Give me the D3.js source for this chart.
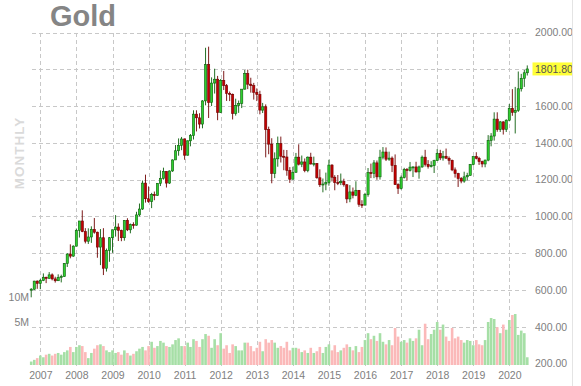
<!DOCTYPE html>
<html>
<head>
<meta charset="utf-8">
<script src="https://cdn.jsdelivr.net/npm/d3@7"></script>
<style>
    body { margin: 0; background: #fff; }
    text { font-family: "Liberation Sans", Arial, sans-serif; }
</style>
</head>
<body>
<script>
// dimensions
const width = 581;
const height = 386;

const title = "Gold";
const period = "MONTHLY";
const firstMonth = new Date(2006, 9, 1);

// monthly candles, [open, high, low, close], Oct 2006 .. Jul 2020
const candles = [
    [600, 610, 560, 604], [604, 650, 600, 648], [648, 652, 606, 636],
    // 2007
    [636, 660, 604, 651], [651, 690, 648, 669], [669, 672, 637, 663], [663, 697, 662, 682],
    [682, 690, 652, 660], [660, 672, 640, 650], [650, 685, 649, 668], [668, 683, 641, 673],
    [673, 746, 672, 744], [744, 800, 725, 795], [795, 848, 772, 784], [784, 843, 780, 838],
    // 2008
    [838, 934, 838, 924], [924, 975, 885, 975], [975, 1033, 914, 917], [917, 936, 853, 865],
    [865, 935, 850, 888], [888, 946, 856, 929], [929, 991, 906, 914], [914, 917, 775, 833],
    [833, 931, 735, 884], [884, 936, 681, 718], [718, 825, 700, 815], [815, 888, 753, 884],
    // 2009
    [884, 928, 802, 927], [927, 1007, 890, 942], [942, 962, 866, 924], [924, 928, 865, 884],
    [884, 980, 868, 978], [978, 990, 920, 927], [927, 961, 908, 955], [955, 968, 933, 952],
    [952, 1025, 950, 1008], [1008, 1070, 1000, 1040], [1040, 1195, 1035, 1181], [1181, 1227, 1075, 1096],
    // 2010
    [1096, 1163, 1074, 1081], [1081, 1128, 1045, 1118], [1118, 1135, 1088, 1113], [1113, 1180, 1112, 1180],
    [1180, 1250, 1165, 1207], [1207, 1265, 1200, 1245], [1245, 1245, 1157, 1181], [1181, 1250, 1177, 1247],
    [1247, 1310, 1242, 1307], [1307, 1388, 1314, 1357], [1357, 1424, 1330, 1386], [1386, 1432, 1360, 1421],
    // 2011
    [1421, 1424, 1308, 1333], [1333, 1413, 1330, 1411], [1411, 1448, 1381, 1439], [1439, 1577, 1418, 1556],
    [1556, 1577, 1462, 1536], [1536, 1561, 1478, 1502], [1502, 1632, 1479, 1628], [1628, 1917, 1604, 1825],
    [1825, 1923, 1535, 1620], [1620, 1756, 1600, 1725], [1725, 1803, 1668, 1746], [1746, 1764, 1523, 1566],
    // 2012
    [1566, 1747, 1563, 1740], [1740, 1791, 1687, 1711], [1711, 1720, 1628, 1669], [1669, 1679, 1627, 1664],
    [1664, 1668, 1527, 1560], [1560, 1640, 1548, 1604], [1604, 1630, 1563, 1614], [1614, 1691, 1589, 1692],
    [1692, 1796, 1689, 1776], [1776, 1798, 1692, 1719], [1719, 1754, 1673, 1711], [1711, 1726, 1635, 1675],
    // 2013
    [1675, 1696, 1627, 1663], [1663, 1683, 1555, 1578], [1578, 1617, 1562, 1596], [1596, 1609, 1321, 1472],
    [1472, 1488, 1338, 1393], [1393, 1425, 1180, 1234], [1234, 1348, 1208, 1313], [1313, 1434, 1270, 1396],
    [1396, 1434, 1293, 1327], [1327, 1362, 1251, 1323], [1323, 1361, 1221, 1250], [1250, 1268, 1182, 1202],
    // 2014
    [1202, 1270, 1202, 1240], [1240, 1345, 1237, 1322], [1322, 1392, 1277, 1284], [1284, 1331, 1268, 1296],
    [1296, 1315, 1240, 1250], [1250, 1326, 1240, 1322], [1322, 1346, 1282, 1285], [1285, 1325, 1272, 1288],
    [1288, 1290, 1205, 1210], [1210, 1256, 1160, 1172], [1172, 1206, 1131, 1176], [1176, 1238, 1142, 1184],
    // 2015
    [1184, 1308, 1167, 1279], [1279, 1284, 1190, 1213], [1213, 1224, 1142, 1184], [1184, 1225, 1170, 1183],
    [1183, 1233, 1170, 1190], [1190, 1205, 1162, 1172], [1172, 1175, 1072, 1095], [1095, 1170, 1077, 1133],
    [1133, 1157, 1098, 1115], [1115, 1191, 1110, 1142], [1142, 1143, 1052, 1065], [1065, 1088, 1046, 1061],
    // 2016
    [1061, 1128, 1062, 1118], [1118, 1263, 1107, 1238], [1238, 1287, 1208, 1234], [1234, 1306, 1208, 1291],
    [1291, 1304, 1199, 1215], [1215, 1362, 1200, 1322], [1322, 1377, 1310, 1350], [1350, 1375, 1301, 1311],
    [1311, 1352, 1302, 1317], [1317, 1326, 1241, 1277], [1277, 1337, 1171, 1173], [1173, 1180, 1122, 1152],
    // 2017
    [1152, 1222, 1146, 1211], [1211, 1264, 1206, 1255], [1255, 1263, 1194, 1250], [1250, 1296, 1244, 1268],
    [1268, 1272, 1214, 1269], [1269, 1297, 1238, 1242], [1242, 1276, 1205, 1269], [1269, 1331, 1264, 1322],
    [1322, 1362, 1271, 1283], [1283, 1306, 1260, 1271], [1271, 1300, 1266, 1276], [1276, 1308, 1236, 1303],
    // 2018
    [1303, 1366, 1302, 1343], [1343, 1362, 1306, 1318], [1318, 1356, 1303, 1327], [1327, 1369, 1315, 1316],
    [1316, 1326, 1282, 1305], [1305, 1309, 1246, 1253], [1253, 1266, 1211, 1233], [1233, 1237, 1160, 1206],
    [1206, 1214, 1180, 1192], [1192, 1243, 1183, 1215], [1215, 1237, 1196, 1223], [1223, 1285, 1221, 1282],
    // 2019
    [1282, 1326, 1277, 1325], [1325, 1349, 1310, 1316], [1316, 1324, 1280, 1298], [1298, 1303, 1267, 1285],
    [1285, 1309, 1267, 1306], [1306, 1442, 1300, 1413], [1413, 1453, 1381, 1437], [1437, 1566, 1412, 1529],
    [1529, 1566, 1460, 1472], [1472, 1519, 1459, 1514], [1514, 1517, 1445, 1473], [1473, 1528, 1459, 1523],
    // 2020
    [1523, 1611, 1517, 1587], [1587, 1692, 1547, 1566], [1566, 1704, 1451, 1577], [1577, 1788, 1568, 1694],
    [1694, 1775, 1679, 1751], [1751, 1796, 1704, 1781], [1781, 1821, 1766, 1801.8]
];

// monthly volume, millions
const volumes = [
    0.4, 0.6, 0.8,
    1.1, 0.9, 1.2, 1.3, 1.1, 1.3, 1.4, 1.2, 1.5, 1.7, 2.1, 1.5,
    2.1, 2.3, 2.2, 1.5, 0.8, 1.4, 1.9, 2.3, 2.4, 2.2, 1.7, 1.5,
    1.7, 1.4, 1.5, 1.2, 1.7, 1.4, 1.1, 1.3, 1.6, 1.9, 2.1, 1.7,
    2.2, 2.7, 2.0, 2.2, 2.8, 2.6, 2.2, 2.1, 2.4, 2.9, 3.1, 2.2,
    2.2, 2.6, 2.1, 3.0, 2.8, 2.1, 3.0, 3.6, 3.4, 2.0, 3.0, 2.3,
    3.7, 1.9, 2.3, 1.4, 2.4, 2.2, 1.7, 1.7, 2.6, 2.6, 2.2, 1.6,
    2.0, 2.7, 1.6, 3.0, 2.6, 2.9, 2.6, 2.0, 2.2, 2.0, 2.7, 1.7,
    2.0, 2.0, 1.9, 1.5, 1.7, 1.4, 2.0, 1.4, 1.6, 2.1, 1.4, 2.1,
    2.4, 1.7, 2.3, 1.5, 1.7, 2.0, 2.4, 2.1, 1.7, 2.2, 1.5, 2.1,
    2.9, 3.7, 3.0, 3.4, 2.8, 3.7, 2.7, 2.4, 2.9, 2.3, 4.3, 3.3,
    2.7, 2.9, 2.6, 3.1, 2.8, 3.1, 4.1, 2.3, 4.8, 3.0, 3.6, 4.1,
    5.0, 4.1, 4.7, 3.3, 2.8, 4.3, 3.1, 3.3, 2.9, 2.6, 2.9, 2.8,
    2.3, 2.9, 2.4, 2.3, 2.9, 5.0, 5.8, 5.6, 4.4, 3.7, 4.7, 4.1,
    5.4, 6.4, 6.6, 3.5, 4.0, 3.7, 0.9
];

const yearTicks = [2007, 2008, 2009, 2010, 2011, 2012, 2013, 2014, 2015, 2016, 2017, 2018, 2019, 2020];
const priceTicks = [200, 400, 600, 800, 1000, 1200, 1400, 1600, 1800, 2000];
const volumeTicks = [5, 10];

const upFill = "#2ecf2e", upLine = "#0b5d0b";
const downFill = "#c40000", downLine = "#6e0000";
const upVol = "#a6dfa6", downVol = "#fbb9b9";
const gridColor = "#c8c8c8";
const labelColor = "#808080";

let data = candles.map(function (c, i) {
    return {
        date: d3.timeMonth.offset(firstMonth, i),
        open: c[0], high: c[1], low: c[2], close: c[3],
        volume: volumes[i]
    };
});

let svg = d3.select("body")
    .append("svg")
    .attr("width", width)
    .attr("height", height)
    .style("display", "block");

svg.append("defs").append("clipPath")
    .attr("id", "clip")
    .append("rect")
    .attr("x", 0).attr("y", 0)
    .attr("width", 572).attr("height", height);

// scales
let x = d3.scaleTime()
    .domain([new Date(2007, 0, 1), new Date(2020, 0, 1)])
    .range([40.3, 509.3]);
let y = d3.scaleLinear()
    .domain([200, 2000])
    .range([363.5, 32.5]);
// volume pane shares the bottom of the chart
let yVol = d3.scaleLinear()
    .domain([0, 5, 10])
    .range([365, 322, 297]);

const plotLeft = 32, plotRight = 528, plotTop = 33, plotBottom = 366;

// gridlines
svg.append("g")
    .selectAll("line")
    .data(priceTicks.filter(function (d) { return d > 200; }))
    .enter()
    .append("line")
    .attr("x1", plotLeft).attr("x2", plotRight)
    .attr("y1", function (d) { return Math.round(y(d)) + 0.5; })
    .attr("y2", function (d) { return Math.round(y(d)) + 0.5; })
    .attr("stroke", gridColor)
    .attr("stroke-dasharray", "4,3");

svg.append("g")
    .selectAll("line")
    .data(yearTicks)
    .enter()
    .append("line")
    .attr("x1", function (d) { return Math.round(x(new Date(d, 0, 1))) + 0.5; })
    .attr("x2", function (d) { return Math.round(x(new Date(d, 0, 1))) + 0.5; })
    .attr("y1", plotTop).attr("y2", plotBottom)
    .attr("stroke", gridColor)
    .attr("stroke-dasharray", "4,3");

// right border
svg.append("line")
    .attr("x1", 572.5).attr("x2", 572.5)
    .attr("y1", 0).attr("y2", height)
    .attr("stroke", "#e4e4e4");

// volume bars
svg.append("g")
    .selectAll("rect")
    .data(data)
    .enter()
    .append("rect")
    .attr("x", function (d) { return x(d.date) - 1.3; })
    .attr("width", 2.6)
    .attr("y", function (d) { return yVol(d.volume); })
    .attr("height", function (d) { return yVol(0) - yVol(d.volume); })
    .attr("fill", function (d) { return d.close >= d.open ? upVol : downVol; });

// candles
let candle = svg.append("g")
    .selectAll("g")
    .data(data)
    .enter()
    .append("g");

candle.append("line")
    .attr("x1", function (d) { return x(d.date); })
    .attr("x2", function (d) { return x(d.date); })
    .attr("y1", function (d) { return y(d.high); })
    .attr("y2", function (d) { return y(d.low); })
    .attr("stroke", function (d) { return d.close >= d.open ? upLine : downLine; })
    .attr("stroke-width", 0.9);

candle.append("rect")
    .attr("x", function (d) { return x(d.date) - 1.1; })
    .attr("width", 2.2)
    .attr("y", function (d) { return y(Math.max(d.open, d.close)); })
    .attr("height", function (d) { return Math.max(1, Math.abs(y(d.open) - y(d.close))); })
    .attr("fill", function (d) { return d.close >= d.open ? upFill : downFill; })
    .attr("stroke", function (d) { return d.close >= d.open ? upLine : downLine; })
    .attr("stroke-width", 0.6);

// price axis on the right
let priceAxis = svg.append("g")
    .attr("clip-path", "url(#clip)")
    .append("g")
    .attr("transform", "translate(533,0)")
    .call(d3.axisRight(y)
        .tickValues(priceTicks)
        .tickSize(0)
        .tickPadding(2)
        .tickFormat(d3.format(".2f")));
priceAxis.select(".domain").remove();
priceAxis.selectAll("text")
    .attr("fill", labelColor)
    .style("font-size", "10.5px");

// last price marker
let last = data[data.length - 1];
let marker = svg.append("g").attr("clip-path", "url(#clip)");
marker.append("rect")
    .attr("x", 532.5)
    .attr("y", y(last.close) - 6.5)
    .attr("width", 40)
    .attr("height", 13)
    .attr("fill", "#ffff38");
marker.append("text")
    .attr("x", 535)
    .attr("y", y(last.close))
    .attr("dy", "0.35em")
    .attr("fill", "#555")
    .style("font-size", "10.5px")
    .text(d3.format(".2f")(last.close));

// year axis
let yearAxis = svg.append("g")
    .attr("transform", "translate(0,366)")
    .call(d3.axisBottom(x)
        .tickValues(yearTicks.map(function (d) { return new Date(d, 0, 1); }))
        .tickSize(0)
        .tickPadding(6)
        .tickFormat(d3.timeFormat("%Y")));
yearAxis.select(".domain").remove();
yearAxis.selectAll("text")
    .attr("fill", labelColor)
    .style("font-size", "10.5px");

// volume labels
svg.append("g")
    .selectAll("text")
    .data(volumeTicks)
    .enter()
    .append("text")
    .attr("x", 29)
    .attr("y", function (d) { return yVol(d); })
    .attr("dy", "0.35em")
    .attr("text-anchor", "end")
    .attr("fill", labelColor)
    .style("font-size", "10.5px")
    .text(function (d) { return d + "M"; });

// title
svg.append("text")
    .attr("x", 50)
    .attr("y", 26)
    .attr("fill", "#858585")
    .style("font-size", "29px")
    .style("font-weight", "bold")
    .text(title);

svg.append("text")
    .attr("transform", "translate(24,153) rotate(-90)")
    .attr("text-anchor", "middle")
    .attr("fill", "#dadada")
    .style("font-size", "13.5px")
    .style("font-weight", "bold")
    .style("letter-spacing", "1px")
    .text(period);
</script>
</body>
</html>
